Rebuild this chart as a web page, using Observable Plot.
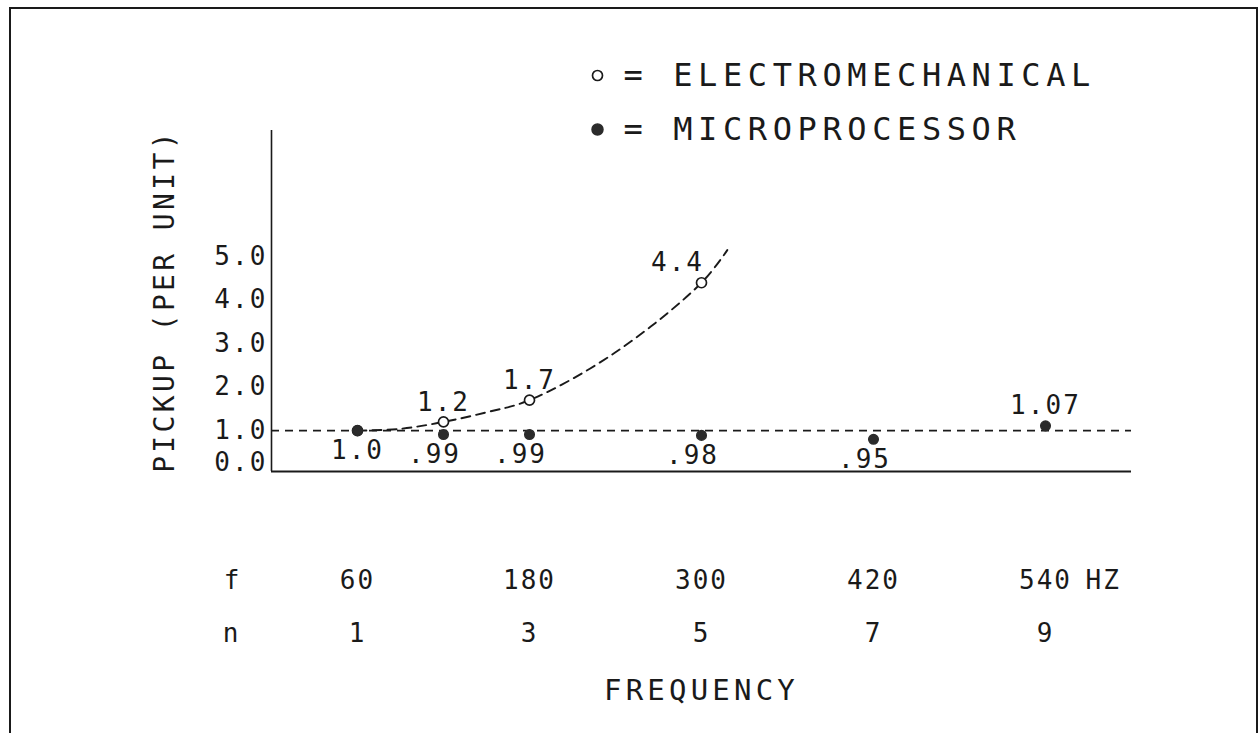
<!DOCTYPE html>
<html><head><meta charset="utf-8">
<script src="https://cdn.jsdelivr.net/npm/d3@7"></script>
<script src="https://cdn.jsdelivr.net/npm/@observablehq/plot@0.6"></script>
<style>
html,body{margin:0;padding:0;background:#fff;}
#wrap{position:relative;width:1259px;height:733px;overflow:hidden;}
#chart svg{display:block;}
#border{position:absolute;left:9px;top:7px;width:1245px;height:780px;border:2px solid #1a1a1a;pointer-events:none;}
</style></head><body>
<div id="wrap"><div id="chart"></div><div id="border"></div></div>
<script>
// ---- data ----
const electroFreq = [60, 120, 180, 300];
const electroPickup = [1.0, 1.2, 1.7, 4.4];
const electroLabels = ["", "1.2", "1.7", "4.4"];

const microFreq = [60, 120, 180, 300, 420, 540];
const microLabels = ["1.0", ".99", ".99", ".98", ".95", "1.07"];
const microPlotted = [1.0, 0.91, 0.91, 0.89, 0.80, 1.11];

const curveFreq = [60, 90, 120, 150, 180, 240, 300, 318];
const curvePickup = [1.0, 1.04, 1.2, 1.42, 1.7, 2.8, 4.4, 5.15];

const yTickValues = [0.26, 1, 2, 3, 4, 5];
const yTickLabels = ["0.0", "1.0", "2.0", "3.0", "4.0", "5.0"];
const fTicks = [60, 180, 300, 420, 540];
const fLabels = ["60", "180", "300", "420", "540"];
const nLabels = ["1", "3", "5", "7", "9"];
const xExtent = [0, 600];
const yExtent = [0.06, 7.9];
const referenceLevel = [1];
const legendItems = ["= ELECTROMECHANICAL", "= MICROPROCESSOR"];

// ---- tables ----
const electro = electroFreq.map((f, i) => ({f, v: electroPickup[i], label: electroLabels[i]}));
const micro = microFreq.map((f, i) => ({f, v: microPlotted[i], label: microLabels[i]}));
const curve = curveFreq.map((f, i) => ({f, v: curvePickup[i]}));
const yMap = new Map(yTickValues.map((d, i) => [d, yTickLabels[i]]));
const fMap = new Map(fTicks.map((d, i) => [d, fLabels[i]]));
const nMap = new Map(fTicks.map((d, i) => [d, nLabels[i]]));
const topElectro = d3.max(electro, d => d.v);

const ink = "#1a1a1a";
const SMALL = 26, AXT = 28, FREQ = 29, LEG = 32;

const plot = Plot.plot({
  width: 1259,
  height: 733,
  marginLeft: 271,
  marginRight: 128,
  marginTop: 130,
  marginBottom: 262,
  x: {domain: xExtent},
  y: {domain: yExtent},
  style: {fontFamily: "DejaVu Sans Mono", color: ink, background: "white"},
  marks: [
    Plot.axisY({anchor: "left", ticks: yTickValues, tickFormat: d => yMap.get(d), tickSize: 0, tickPadding: 4, fontSize: SMALL, label: null}),
    Plot.axisX({anchor: "bottom", ticks: fTicks, tickFormat: d => fMap.get(d), tickSize: 0, tickPadding: 99, fontSize: SMALL, label: null}),
    Plot.axisX({anchor: "bottom", ticks: fTicks, tickFormat: d => nMap.get(d), tickSize: 0, tickPadding: 152, fontSize: SMALL, label: null}),
    Plot.ruleX([xExtent[0]], {y1: yExtent[0], y2: yExtent[1], stroke: ink, strokeWidth: 1.6}),
    Plot.ruleY([yExtent[0]], {x1: xExtent[0], x2: xExtent[1], stroke: ink, strokeWidth: 2}),
    Plot.ruleY(referenceLevel, {x1: xExtent[0], x2: xExtent[1], stroke: ink, strokeWidth: 1.7, strokeDasharray: "8,6"}),
    Plot.line(curve, {x: "f", y: "v", curve: "catmull-rom", stroke: ink, strokeWidth: 1.9, strokeDasharray: "9,6"}),
    Plot.dot(electro, {x: "f", y: "v", r: 5, stroke: ink, strokeWidth: 1.7, fill: "white"}),
    Plot.dot(micro, {x: "f", y: "v", r: 4.8, fill: "#2b2b2b", stroke: "#2b2b2b"}),
    // point labels
    Plot.text(electro.filter(d => d.label && d.v < topElectro), {x: "f", y: "v", text: "label", dy: -19, fontSize: SMALL}),
    Plot.text(electro.filter(d => d.label && d.v === topElectro), {x: "f", y: "v", text: "label", dx: -24, dy: -20, fontSize: SMALL}),
    Plot.text(micro.filter(d => d.v <= 1 && !d.label.startsWith(".")), {x: "f", y: "v", text: "label", dy: 20, fontSize: SMALL}),
    Plot.text(micro.filter(d => d.v <= 1 && d.label.startsWith(".")), {x: "f", y: "v", text: "label", dx: -9, dy: 20, fontSize: SMALL}),
    Plot.text(micro.filter(d => d.v > 1), {x: "f", y: "v", text: "label", dy: -20, fontSize: SMALL}),
    // row captions and unit
    Plot.text(["f"], {frameAnchor: "bottom-left", textAnchor: "middle", lineAnchor: "top", dx: -39, dy: 99, fontSize: SMALL}),
    Plot.text(["n"], {frameAnchor: "bottom-left", textAnchor: "middle", lineAnchor: "top", dx: -40, dy: 152, fontSize: SMALL}),
    Plot.text([fTicks[fTicks.length - 1]], {x: d => d, frameAnchor: "bottom", text: () => "HZ", textAnchor: "start", lineAnchor: "top", dx: 40, dy: 99, fontSize: SMALL}),
    // titles
    Plot.text(["FREQUENCY"], {frameAnchor: "bottom", lineAnchor: "middle", dy: 219, fontSize: FREQ}),
    Plot.text(["PICKUP (PER UNIT)"], {frameAnchor: "left", textAnchor: "middle", lineAnchor: "middle", dx: -106, rotate: -90, fontSize: AXT}),
    // legend
    Plot.dot([legendItems[0]], {frameAnchor: "top-left", dx: 326, dy: -55, r: 5, stroke: ink, strokeWidth: 1.7, fill: "white"}),
    Plot.dot([legendItems[1]], {frameAnchor: "top-left", dx: 326, dy: -1, r: 5.5, fill: "#2b2b2b", stroke: "#2b2b2b"}),
    Plot.text([legendItems[0]], {frameAnchor: "top-left", textAnchor: "start", lineAnchor: "middle", dx: 352, dy: -55, fontSize: LEG}),
    Plot.text([legendItems[1]], {frameAnchor: "top-left", textAnchor: "start", lineAnchor: "middle", dx: 352, dy: -1, fontSize: LEG})
  ]
});

const spacing = {[SMALL]: 0.08, [AXT]: 0.12, [FREQ]: 0.145, [LEG]: 0.175};
plot.querySelectorAll("text").forEach(t => {
  const g = t.closest("[font-size]");
  const fs = g ? parseFloat(g.getAttribute("font-size")) : SMALL;
  const k = spacing[fs] ?? 0.08;
  t.style.letterSpacing = (k * fs).toFixed(2) + "px";
});

document.getElementById("chart").appendChild(plot);
</script>
</body></html>
